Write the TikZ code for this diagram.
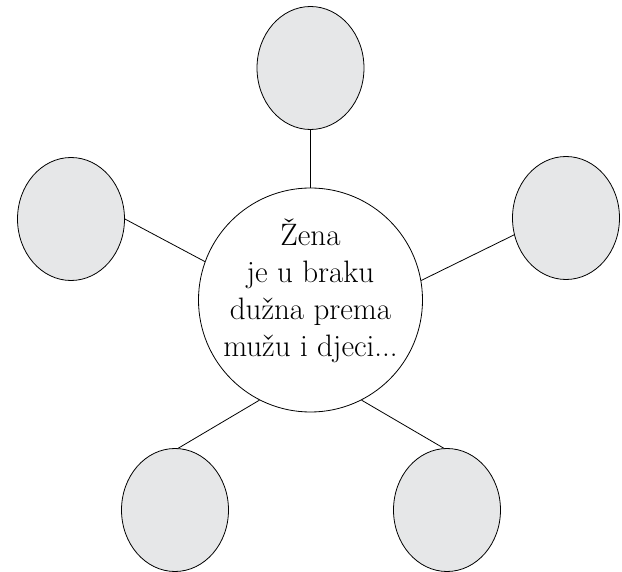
\documentclass[tikz,border=0pt]{standalone}
\usepackage{fontspec}
\usetikzlibrary{shapes.geometric}
\definecolor{bubblegray}{RGB}{230,231,232}

\begin{document}
\begin{tikzpicture}
  [x=1pt, y=-1pt, line width=0.8pt,
   bubble/.style={ellipse, draw, fill=bubblegray, minimum width=107pt, minimum height=123pt, inner sep=0pt},
   hub/.style={circle, draw, fill=white, minimum size=224pt, inner sep=0pt},
   hubtext/.style={align=center, inner sep=0pt, font=\fontsize{31}{37}\selectfont}]
	\useasboundingbox (0,0) rectangle (622,572);

	\node [name=zena, hub] at (310.5,300) {};
	\node [name=zenatext, hubtext] at (310.5,291) {Žena\\je u braku\\dužna prema\\mužu i djeci...};
	\node [name=top, bubble] at (310.5,68) {};
	\node [name=left, bubble] at (71,219) {};
	\node [name=right, bubble] at (566,218) {};
	\node [name=botleft, bubble] at (175,510) {};
	\node [name=botright, bubble] at (447,510) {};

	\path (top) edge (zena.north)
				(left.east) edge (zena.160)
				(right.198) edge (zena.10)
				(botleft.87) edge (zena.243)
				(botright.93) edge (zena.297);
\end{tikzpicture}
\end{document}
